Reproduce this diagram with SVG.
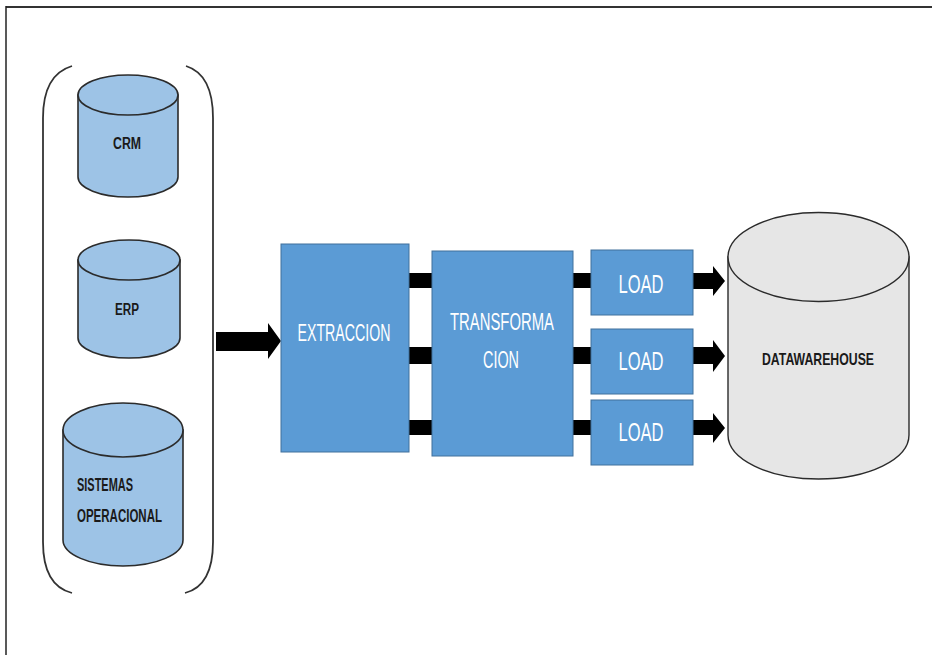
<svg xmlns="http://www.w3.org/2000/svg" width="932" height="655" viewBox="0 0 932 655">
  <style>
    .src { fill: #9DC3E6; stroke: #2b2b2b; stroke-width: 1.6; }
    .dw { fill: #E6E6E6; stroke: #2b2b2b; stroke-width: 1.4; }
    .box { fill: #5B9BD5; stroke: #41719C; stroke-width: 1; }
    .bar { fill: #000000; }
    .brace { fill: none; stroke: #333333; stroke-width: 1.8; }
    .dark { font-family: "Liberation Sans", Arial, sans-serif; font-weight: bold; fill: #1a1a1a; }
    .white { font-family: "Liberation Sans", Arial, sans-serif; fill: #ffffff; }
  </style>

  <!-- page frame -->
  <line x1="6" y1="7" x2="932" y2="7" stroke="#333333" stroke-width="2"/>
  <line x1="6" y1="6" x2="6" y2="655" stroke="#222222" stroke-width="1.5"/>

  <!-- grouping brackets around the sources -->
  <g id="sources-bracket">
    <path class="brace" d="M72,66 C52,72 43,90 43,118 L43,542 C43,570 52,588 72,593"/>
    <path class="brace" d="M186,66 C205,72 213,90 213,118 L213,542 C213,570 205,588 185,593"/>
  </g>

  <!-- source: CRM -->
  <g id="crm">
    <path class="src" d="M78,95 L78,177 A50,20 0 0 0 178,177 L178,95 Z"/>
    <ellipse class="src" cx="128" cy="95" rx="50" ry="20"/>
    <text class="dark" x="127" y="149" font-size="16" text-anchor="middle" textLength="28" lengthAdjust="spacingAndGlyphs">CRM</text>
  </g>

  <!-- source: ERP -->
  <g id="erp">
    <path class="src" d="M78,260 L78,338 A51,20 0 0 0 180,338 L180,260 Z"/>
    <ellipse class="src" cx="129" cy="260" rx="51" ry="20"/>
    <text class="dark" x="127" y="315" font-size="16" text-anchor="middle" textLength="24" lengthAdjust="spacingAndGlyphs">ERP</text>
  </g>

  <!-- source: operational systems -->
  <g id="sistemas">
    <path class="src" d="M63,430 L63,540 A60,26 0 0 0 183,540 L183,430 Z"/>
    <ellipse class="src" cx="123" cy="430" rx="60" ry="27"/>
    <text class="dark" x="77" y="491" font-size="18" textLength="56" lengthAdjust="spacingAndGlyphs">SISTEMAS</text>
    <text class="dark" x="77" y="522" font-size="18" textLength="85" lengthAdjust="spacingAndGlyphs">OPERACIONAL</text>
  </g>

  <!-- connectors -->
  <g id="connectors">
    <!-- sources to extraction -->
    <polygon class="bar" points="216,332 268,332 268,323 281,341 268,359 268,351 216,351"/>
    <!-- extraction to transformation -->
    <rect class="bar" x="409" y="273" width="23" height="15"/>
    <rect class="bar" x="409" y="347" width="23" height="17"/>
    <rect class="bar" x="409" y="420" width="23" height="15"/>
    <!-- transformation to load -->
    <rect class="bar" x="573" y="273" width="19" height="15"/>
    <rect class="bar" x="573" y="347" width="19" height="17"/>
    <rect class="bar" x="573" y="420" width="19" height="15"/>
    <!-- load to warehouse -->
    <polygon class="bar" points="693,273 713,273 713,266 725,281 713,296 713,289 693,289"/>
    <polygon class="bar" points="693,347 713,347 713,340 725,356 713,372 713,364 693,364"/>
    <polygon class="bar" points="693,420 713,420 713,413 725,428 713,443 713,435 693,435"/>
  </g>

  <!-- extraction -->
  <g id="extraccion">
    <rect class="box" x="281" y="244" width="128" height="208"/>
    <text class="white" x="344" y="341" font-size="24" text-anchor="middle" textLength="93" lengthAdjust="spacingAndGlyphs">EXTRACCION</text>
  </g>

  <!-- transformation -->
  <g id="transformacion">
    <rect class="box" x="432" y="251" width="141" height="205"/>
    <text class="white" x="502" y="330" font-size="23" text-anchor="middle" textLength="104" lengthAdjust="spacingAndGlyphs">TRANSFORMA</text>
    <text class="white" x="501" y="368" font-size="23" text-anchor="middle" textLength="36" lengthAdjust="spacingAndGlyphs">CION</text>
  </g>

  <!-- load steps -->
  <g id="load-1">
    <rect class="box" x="591" y="250" width="102" height="65"/>
    <text class="white" x="641" y="293" font-size="25" text-anchor="middle" textLength="45" lengthAdjust="spacingAndGlyphs">LOAD</text>
  </g>
  <g id="load-2">
    <rect class="box" x="591" y="329" width="102" height="65"/>
    <text class="white" x="641" y="370" font-size="25" text-anchor="middle" textLength="45" lengthAdjust="spacingAndGlyphs">LOAD</text>
  </g>
  <g id="load-3">
    <rect class="box" x="591" y="400" width="102" height="65"/>
    <text class="white" x="641" y="441" font-size="25" text-anchor="middle" textLength="45" lengthAdjust="spacingAndGlyphs">LOAD</text>
  </g>

  <!-- data warehouse -->
  <g id="datawarehouse">
    <path class="dw" d="M728,257 L728,435 A90.5,44 0 0 0 909,435 L909,257 Z"/>
    <ellipse class="dw" cx="818.5" cy="257" rx="90.5" ry="44.5"/>
    <text class="dark" x="818" y="365" font-size="17" text-anchor="middle" textLength="112" lengthAdjust="spacingAndGlyphs">DATAWAREHOUSE</text>
  </g>
</svg>
